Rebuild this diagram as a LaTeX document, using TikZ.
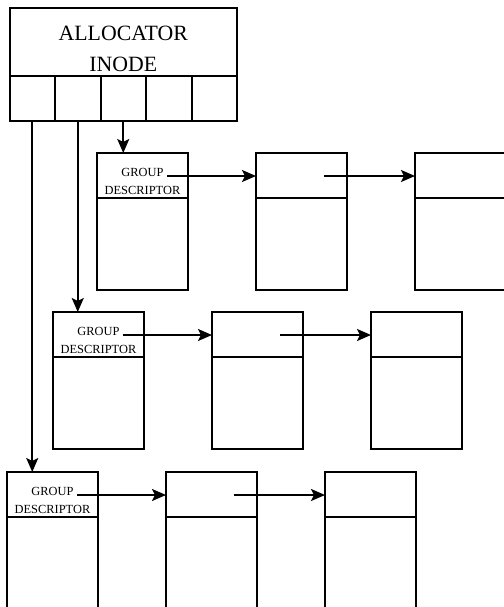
\documentclass[tikz,border=0pt]{standalone}
\usepackage{fontspec}
\setmainfont{Liberation Serif}
\usetikzlibrary{arrows.meta,positioning}

\tikzset{
    blk/.style={draw,line width=2pt,minimum width=91pt,minimum height=45pt,inner sep=0pt,outer sep=0pt,anchor=north west},
    bodyblk/.style={draw,line width=2pt,minimum width=91pt,minimum height=92pt,inner sep=0pt,outer sep=0pt,anchor=north},
    cellblk/.style={draw,line width=2pt,minimum width=45.5pt,minimum height=45pt,inner sep=0pt,outer sep=0pt,anchor=north west},
    lnk/.style={line width=2pt,->},
}

\begin{document}
\begin{tikzpicture}[line join=miter,>={Stealth[length=14pt,width=12pt,inset=3pt]},x=1pt,y=-1pt]
                \useasboundingbox (0,0) rectangle (503,607);
                % allocator inode
                \node [draw,line width=2pt,minimum width=227.5pt,minimum height=68pt,inner sep=0pt,outer sep=0pt,anchor=north west] (alloc) at (9.5,8) {};
                \node [anchor=base,align=center,font=\fontsize{21.8}{31}\selectfont] (atxt) at ([yshift=-30pt]alloc.center) {ALLOCATOR\\INODE};
                \node [cellblk] (cell1) at (9.5,76) {};
                \node [cellblk] (cell2) at (55,76) {};
                \node [cellblk] (cell3) at (100.5,76) {};
                \node [cellblk] (cell4) at (146,76) {};
                \node [cellblk] (cell5) at (191.5,76) {};
                % group descriptor chains
                \foreach \r/\xa/\ya in {1/97/153, 2/53/312, 3/7/472} {
                    \node [blk] (h\r1) at (\xa,\ya) {};
                    \node [blk] (h\r2) at (\xa+159,\ya) {};
                    \node [blk] (h\r3) at (\xa+318,\ya) {};
                    \node [bodyblk] (b\r1) at (h\r1.south) {};
                    \node [bodyblk] (b\r2) at (h\r2.south) {};
                    \node [bodyblk] (b\r3) at (h\r3.south) {};
                    \node [anchor=base,align=center,font=\fontsize{12.4}{18}\selectfont] (gd\r) at ([yshift=-18.5pt]h\r1.center) {GROUP\\DESCRIPTOR};
                    \coordinate (p\r1) at ([xshift=24.5pt,yshift=-0.5pt]h\r1.center);
                    \coordinate (p\r2) at ([xshift=22.5pt,yshift=-0.5pt]h\r2.center);
                    \draw [lnk] (p\r1) -- (p\r1 -| h\r2.west);
                    \draw [lnk] (p\r2) -- (p\r2 -| h\r3.west);
                }
                \draw [lnk] (cell3.south) -- (cell3.south |- h11.north);
                \draw [lnk] (cell2.south) -- (cell2.south |- h21.north);
                \draw [lnk] (cell1.south) -- (cell1.south |- h31.north);
            \end{tikzpicture}
\end{document}
